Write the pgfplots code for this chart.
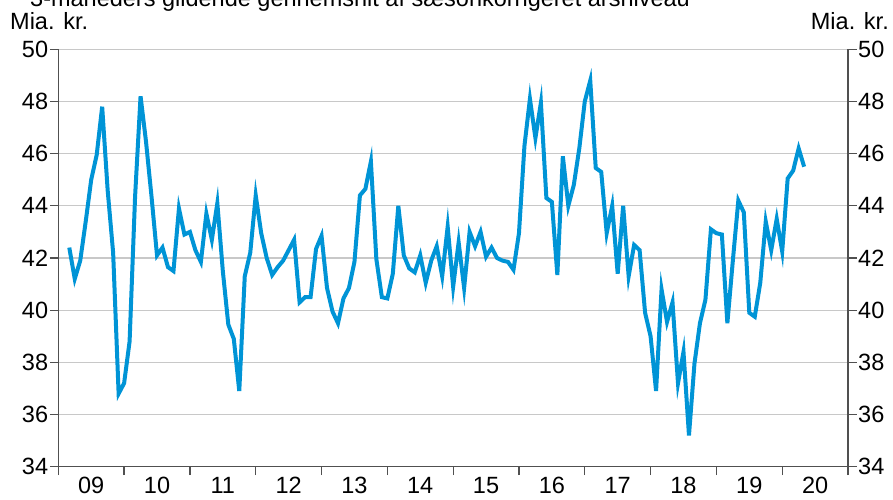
\documentclass[border=0pt]{standalone}
\usepackage{fontspec}
\setmainfont{Liberation Sans}
\usepackage{pgfplots}
\pgfplotsset{compat=1.18}

\definecolor{lineblue}{RGB}{0,148,214}
\definecolor{axisgray}{RGB}{80,80,80}
\definecolor{gridgray}{RGB}{200,200,200}

% months since Jan 2009 (Mar 2009 = 2), value in bn kr
\pgfplotstableread{
m v
2 42.4
3 41.2
4 41.9
5 43.4
6 45.0
7 45.95
8 47.8
9 44.6
10 42.2
11 36.8
12 37.2
13 38.8
14 44.35
15 48.2
16 46.45
17 44.35
18 42.1
19 42.4
20 41.65
21 41.5
22 43.9
23 42.9
24 43.0
25 42.3
26 41.85
27 43.7
28 42.7
29 44.1
30 41.5
31 39.45
32 38.9
33 36.9
34 41.3
35 42.2
36 44.4
37 42.95
38 42.0
39 41.35
40 41.65
41 41.9
42 42.3
43 42.7
44 40.3
45 40.5
46 40.5
47 42.35
48 42.85
49 40.85
50 39.95
51 39.5
52 40.45
53 40.85
54 41.85
55 44.4
56 44.65
57 45.7
58 41.95
59 40.5
60 40.45
61 41.4
62 44.0
63 42.1
64 41.6
65 41.45
66 42.1
67 41.05
68 41.9
69 42.45
70 41.3
71 43.2
72 40.9
73 42.6
74 40.85
75 43.0
76 42.45
77 43.0
78 42.05
79 42.4
80 42.0
81 41.9
82 41.85
83 41.55
84 42.95
85 46.3
86 48.1
87 46.6
88 47.95
89 44.3
90 44.15
91 41.35
92 45.9
93 44.0
94 44.8
95 46.2
96 48.0
97 48.8
98 45.45
99 45.3
100 42.95
101 44.0
102 41.4
103 44.0
104 41.3
105 42.5
106 42.3
107 39.9
108 39.0
109 36.9
110 40.8
111 39.55
112 40.3
113 37.2
114 38.4
115 35.2
116 37.95
117 39.5
118 40.4
119 43.1
120 42.95
121 42.9
122 39.5
123 41.9
124 44.2
125 43.75
126 39.9
127 39.75
128 41.05
129 43.4
130 42.3
131 43.5
132 42.25
133 45.05
134 45.35
135 46.2
136 45.5
}\datatable

\pgfplotsset{
  baseaxis/.style={
    at={(58.3pt,32.3pt)}, anchor=south west,
    width=789.7pt, height=417.4pt, scale only axis,
    xmin=0, xmax=144, ymin=34, ymax=50,
    ytick={34,36,...,50},
    tick align=outside, major tick length=8.5pt,
    axis line style={color=axisgray, line width=1.3pt},
    every tick/.style={color=axisgray, line width=1.3pt},
    tick label style={font=\fontsize{23.5}{27}\selectfont},
    /pgf/number format/assume math mode=true,
  }
}

\begin{document}
\begin{tikzpicture}[x=1pt,y=1pt,font=\fontsize{23.5}{27}\selectfont]
\begin{axis}[baseaxis,
    axis x line*=bottom, axis y line*=left,
    xtick={0,12,...,144},
    xticklabels={09,10,11,12,13,14,15,16,17,18,19,20},
    x tick label as interval,
    ymajorgrids,
    grid style={color=gridgray, line width=1.2pt},
    yticklabel style={inner sep=1.5pt},
    xticklabel style={inner sep=1.5pt},
]
\addplot[color=lineblue, line width=4pt, mark=none] table[x=m, y=v] {\datatable};
\end{axis}
\begin{axis}[baseaxis,
    axis x line=none, axis y line*=right,
    yticklabel style={inner sep=1.5pt},
]
\end{axis}
\node[anchor=base west, inner sep=0] at (10,469) {Mia. kr.};
\node[anchor=base east, inner sep=0] at (889,469) {Mia. kr.};
\node[anchor=base west, inner sep=0] at (30,492.5) {3-måneders glidende gennemsnit af sæsonkorrigeret årsniveau};
\pgfresetboundingbox
\useasboundingbox (0,0) rectangle (893,499);
\end{tikzpicture}
\end{document}
